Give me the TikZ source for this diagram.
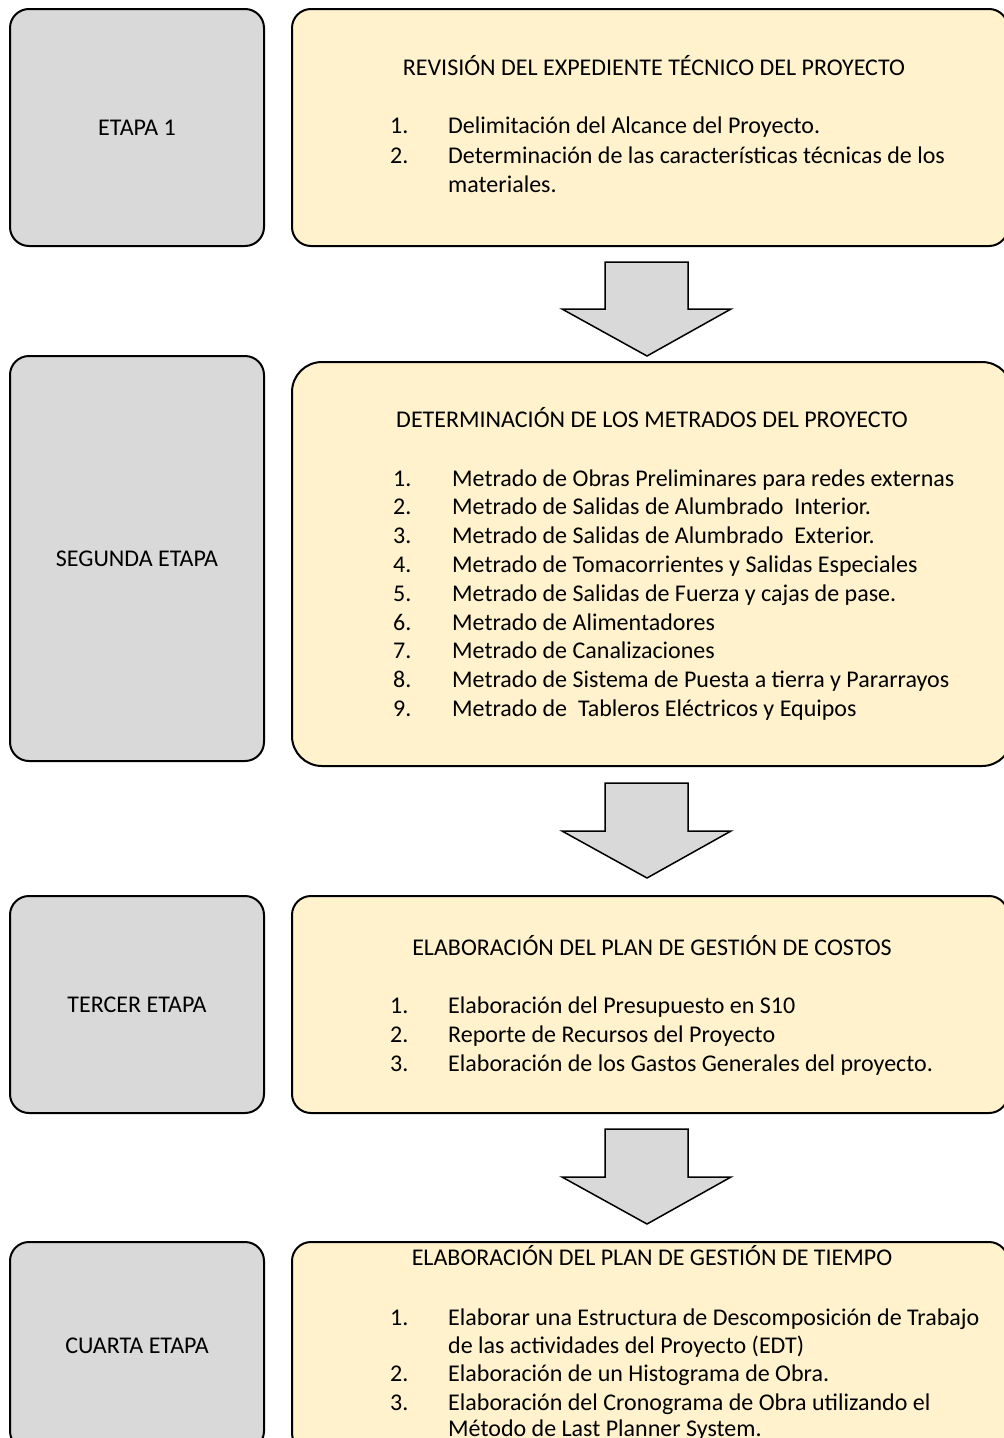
\documentclass[tikz,border=0pt]{standalone}
\usepackage{fontspec}
\setmainfont{Carlito}
\definecolor{boxgray}{HTML}{D9D9D9}
\definecolor{boxyellow}{HTML}{FFF2CC}
\begin{document}
\begin{tikzpicture}[x=1pt,y=-1pt,
  font=\fontsize{24pt}{29pt}\selectfont,
  graybox/.style={draw=black, line width=2pt, fill=boxgray, rounded corners=19pt,
    anchor=north west, inner sep=0pt, minimum width=254pt},
  yelbox/.style={draw=black, line width=2pt, fill=boxyellow, rounded corners=19pt,
    anchor=north west, inner sep=0pt, minimum width=716pt},
  ttl/.style={anchor=base, inner sep=0pt},
  num/.style={anchor=base west, inner sep=0pt},
  itm/.style={anchor=base west, inner sep=0pt},
  blockarrow/.style={draw=black, line width=1.5pt, fill=boxgray, line join=miter}]
\useasboundingbox (0,0) rectangle (1004,1438);
\clip (0,0) rectangle (1004,1438);

% ---------- Stage 1
\node[graybox, minimum height=237pt] (g1) at (9,8) {ETAPA 1};
\node[yelbox, minimum height=237pt] (y1) at (291,8) {};
\node[ttl] (y1t) at (654,75) {REVISIÓN DEL EXPEDIENTE TÉCNICO DEL PROYECTO};
\node[num] (y1n1) at (390,133) {1.};
\node[itm] (y1i1) at (448,133) {Delimitación del Alcance del Proyecto.};
\node[num] (y1n2) at (390,163) {2.};
\node[itm] (y1i2) at (448,163) {Determinación de las características técnicas de los};
\node[itm] (y1i2b) at (448,192) {materiales.};

% ---------- Arrow 1
\draw[blockarrow] (605,262) -- (688,262) -- (688,309) -- (731,309) -- (647,356) -- (562,309) -- (605,309) -- cycle;

% ---------- Stage 2
\node[graybox, minimum height=405pt] (g2) at (9,355) {SEGUNDA ETAPA};
\node[yelbox, minimum height=404pt, minimum width=720pt, rounded corners=30pt] (y2) at (291,361) {};
\node[ttl] (y2t) at (652,427) {DETERMINACIÓN DE LOS METRADOS DEL PROYECTO};
\foreach \k/\txt in {1/{Metrado de Obras Preliminares para redes externas},
                     2/{Metrado de Salidas de Alumbrado\ \ Interior.},
                     3/{Metrado de Salidas de Alumbrado\ \ Exterior.},
                     4/{Metrado de Tomacorrientes y Salidas Especiales},
                     5/{Metrado de Salidas de Fuerza y cajas de pase.},
                     6/{Metrado de Alimentadores},
                     7/{Metrado de Canalizaciones},
                     8/{Metrado de Sistema de Puesta a tierra y Pararrayos},
                     9/{Metrado de\ \ Tableros Eléctricos y Equipos}}{
  \node[num] (y2n\k) at (393,{486+28.8*(\k-1)}) {\k.};
  \node[itm] (y2i\k) at (452,{486+28.8*(\k-1)}) {\txt};
}

% ---------- Arrow 2
\draw[blockarrow] (605,783) -- (688,783) -- (688,831) -- (731,831) -- (647,878) -- (562,831) -- (605,831) -- cycle;

% ---------- Stage 3
\node[graybox, minimum height=217pt] (g3) at (9,895) {TERCER ETAPA};
\node[yelbox, minimum height=217pt] (y3) at (291,895) {};
\node[ttl] (y3t) at (652,955) {ELABORACIÓN DEL PLAN DE GESTIÓN DE COSTOS};
\node[num] (y3n1) at (390,1013) {1.};
\node[itm] (y3i1) at (448,1013) {Elaboración del Presupuesto en S10};
\node[num] (y3n2) at (390,1042) {2.};
\node[itm] (y3i2) at (448,1042) {Reporte de Recursos del Proyecto};
\node[num] (y3n3) at (390,1071) {3.};
\node[itm] (y3i3) at (448,1071) {Elaboración de los Gastos Generales del proyecto.};

% ---------- Arrow 3
\draw[blockarrow] (605,1129) -- (688,1129) -- (688,1177) -- (731,1177) -- (647,1224) -- (562,1177) -- (605,1177) -- cycle;

% ---------- Stage 4
\node[graybox, minimum height=208pt] (g4) at (9,1241) {CUARTA ETAPA};
\node[yelbox, minimum height=210pt] (y4) at (291,1241) {};
\node[ttl] (y4t) at (652,1265) {ELABORACIÓN DEL PLAN DE GESTIÓN DE TIEMPO};
\node[num] (y4n1) at (390,1325) {1.};
\node[itm] (y4i1) at (448,1325) {Elaborar una Estructura de Descomposición de Trabajo};
\node[itm] (y4i1b) at (448,1353) {de las actividades del Proyecto (EDT)};
\node[num] (y4n2) at (390,1381) {2.};
\node[itm] (y4i2) at (448,1381) {Elaboración de un Histograma de Obra.};
\node[num] (y4n3) at (390,1410) {3.};
\node[itm] (y4i3) at (448,1410) {Elaboración del Cronograma de Obra utilizando el};
\node[itm] (y4i3b) at (448,1436) {Método de Last Planner System.};
\end{tikzpicture}
\end{document}
